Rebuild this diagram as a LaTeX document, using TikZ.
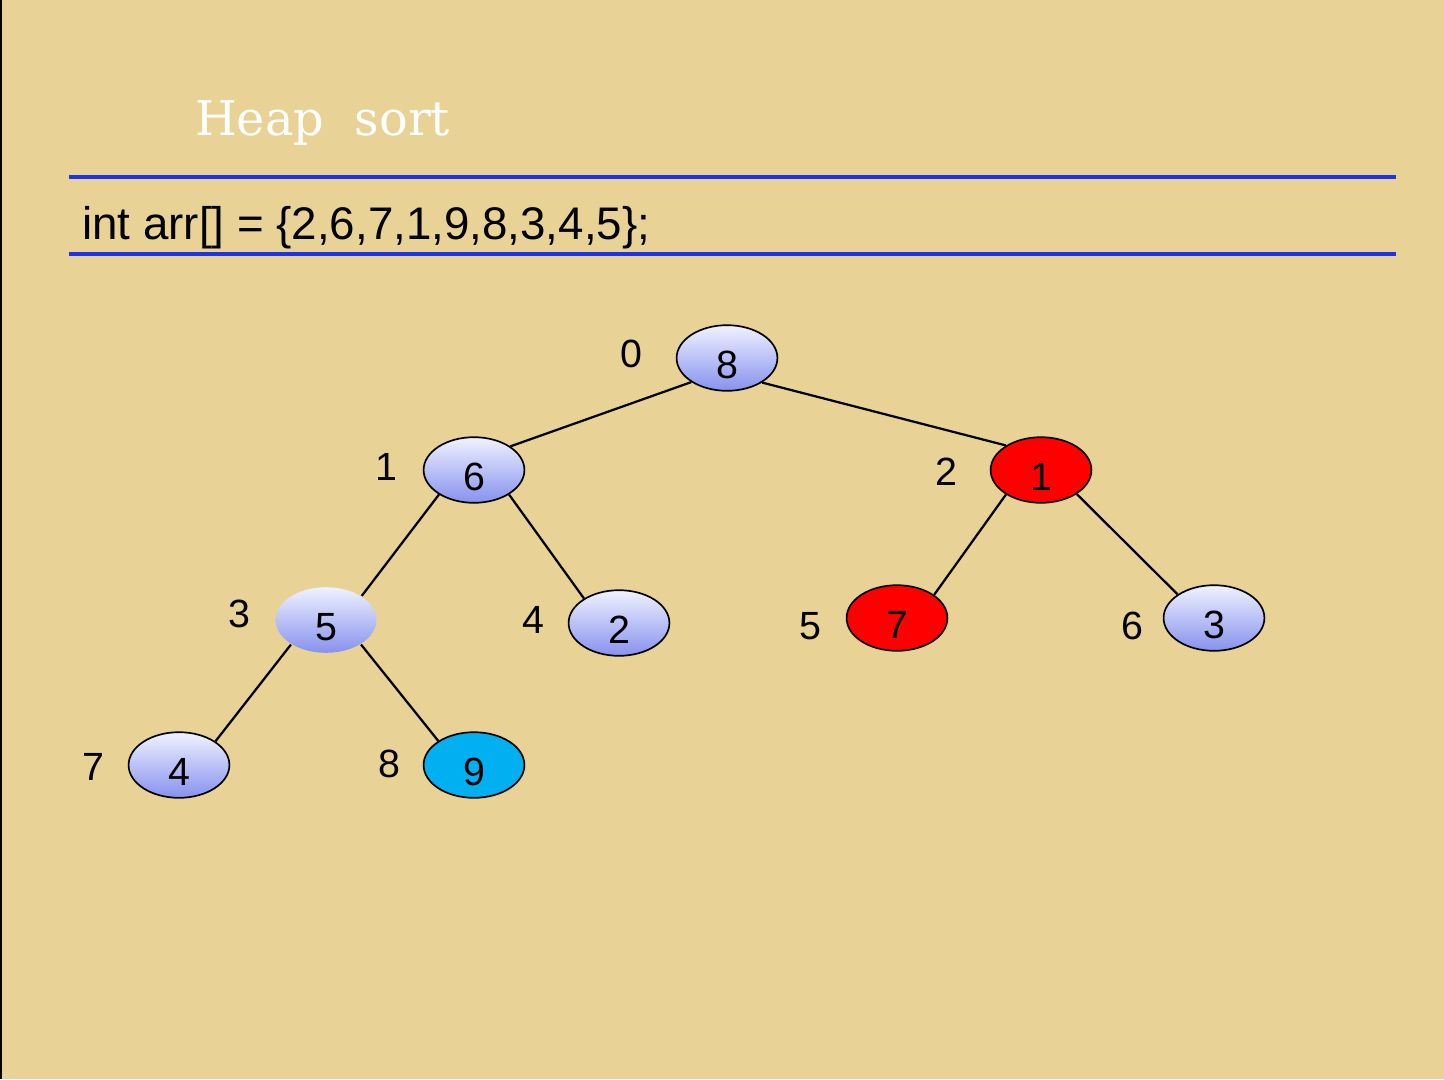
\documentclass[tikz,border=0pt]{standalone}
\usepackage{fontspec}
\setmainfont{Liberation Sans}
\newfontfamily\titlefont{DejaVu Serif}
\definecolor{papyrus}{RGB}{232,210,150}
\definecolor{ruleblue}{RGB}{30,50,235}
\definecolor{nodetop}{RGB}{240,242,255}
\definecolor{nodebottom}{RGB}{135,145,238}
\definecolor{hotred}{RGB}{255,0,0}
\definecolor{swapcyan}{RGB}{0,176,240}
\usetikzlibrary{shapes,positioning}

\begin{document}
\begin{tikzpicture}[x=0.025cm, y=-0.025cm,
    every node/.style={font=\fontsize{28}{32}\selectfont},
    keynode/.style={ellipse, draw, line width=1.2pt, minimum width=2.52cm, minimum height=1.64cm, inner sep=0pt, text height=28.6pt, text depth=0pt},
    heapnode/.style={keynode, top color=nodetop, bottom color=nodebottom},
    rednode/.style={keynode, fill=hotred},
    cyannode/.style={keynode, fill=swapcyan},
    idx/.style={inner sep=0pt},
    edge/.style={line width=1.6pt}]
    % Background
    \useasboundingbox (0,0) rectangle (1444,1079);
    \fill[papyrus] (0,0) rectangle (1444,1079);
    \draw[line width=1.5pt] (1,0) -- (1,1079);

    % Title and array
    \node[anchor=base west, inner sep=0pt, text=white, font=\titlefont\fontsize{34}{40}\selectfont] (title) at (195,135) {Heap~~sort};
    \draw[ruleblue, line width=2.8pt] (69,177) -- (1396,177);
    \node[anchor=base west, inner sep=0pt, font=\fontsize{32.5}{36}\selectfont] (code) at (82,239) {int arr[] = \{2,6,7,1,9,8,3,4,5\};};
    \draw[ruleblue, line width=2.8pt] (69,254) -- (1396,254);

    % Tree nodes
    \node[heapnode] (n0) at (727,358) {8};
    \node[heapnode] (n1) at (474,470) {6};
    \node[rednode] (n2) at (1041,470) {1};
    \node[heapnode, draw=none] (n3) at (326,620) {5};
    \node[heapnode] (n4) at (619,623) {2};
    \node[rednode] (n5) at (897,618) {7};
    \node[heapnode] (n6) at (1214,618) {3};
    \node[heapnode] (n7) at (179,765) {4};
    \node[cyannode] (n8) at (474,765) {9};

    % Edges
    \draw[edge] (n0.214) -- (n1.33);
    \draw[edge] (n0.325) -- (n2.145);
    \draw[edge] (n1.215) -- (n3.34);
    \draw[edge] (n1.325) -- (n4.145);
    \draw[edge] (n2.215) -- (n5.32);
    \draw[edge] (n2.326) -- (n6.147);
    \draw[edge] (n3.215) -- (n7.33);
    \draw[edge] (n3.325) -- (n8.146);

    % Indices
    \node[idx] (i0) at (631,354) {0};
    \node[idx] (i1) at (386,467) {1};
    \node[idx] (i2) at (946,472) {2};
    \node[idx] (i3) at (239,614) {3};
    \node[idx] (i4) at (533,620) {4};
    \node[idx] (i5) at (810,626) {5};
    \node[idx] (i6) at (1132,626) {6};
    \node[idx] (i7) at (93,767) {7};
    \node[idx] (i8) at (389,764) {8};
\end{tikzpicture}
\end{document}
